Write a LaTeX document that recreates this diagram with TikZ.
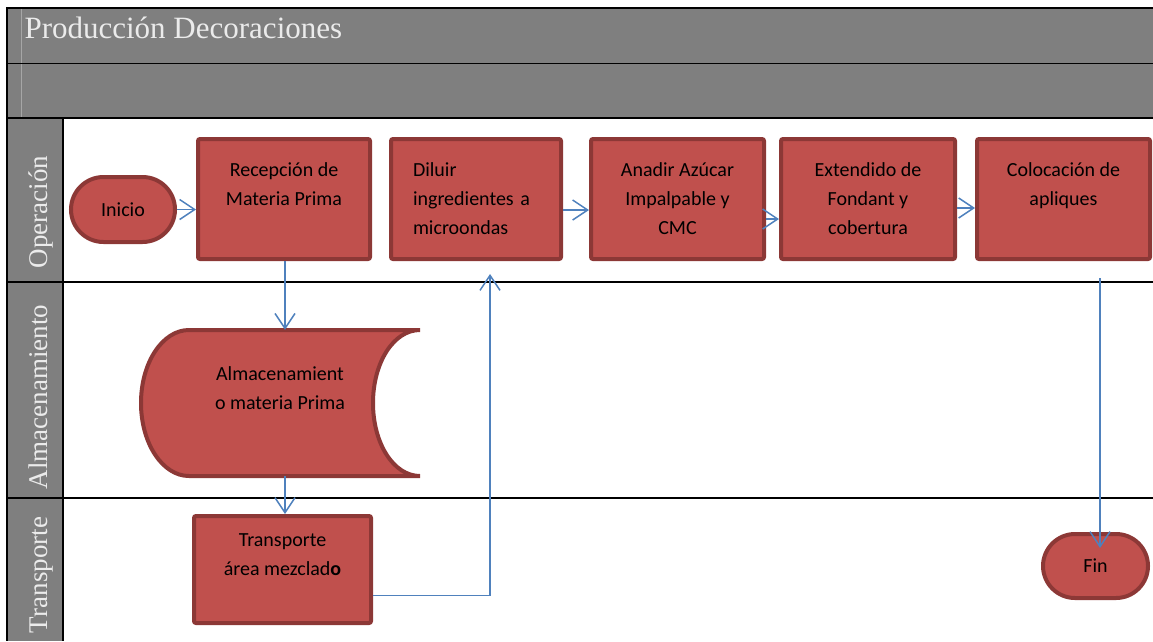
\documentclass[tikz,border=0pt]{standalone}
\usepackage{fontspec}
\setmainfont{Liberation Serif}
\newfontfamily\calibri{Carlito}
\usetikzlibrary{arrows.meta, positioning, shapes.misc}
\definecolor{lanegray}{HTML}{7F7F7F}
\definecolor{boxred}{HTML}{C0504D}
\definecolor{boxborder}{HTML}{8C3836}
\definecolor{flowblue}{HTML}{4F81BD}
\definecolor{labelgray}{HTML}{EBEBEB}
\tikzset{%
	proceso/.style={
		rectangle,
		rounded corners=2pt,
		draw=boxborder,
		fill=boxred,
		line width=4pt,
		inner sep=0pt,
		align=center,
		font=\calibri\fontsize{20}{29}\selectfont
	},
	terminal/.style={
		rounded rectangle,
		draw=boxborder,
		fill=boxred,
		line width=4pt,
		inner sep=0pt,
		font=\calibri\fontsize{20}{29}\selectfont
	},
	flecha/.style={
		draw=flowblue,
		line width=1.5pt,
		-{Straight Barb[length=15pt, width=20pt]}
	},
	carril/.style={
		rotate=90,
		anchor=base,
		text=labelgray,
		font=\fontsize{27}{32}\selectfont
	},
	separador/.style={draw=black, line width=2pt},
}

\begin{document}
\begin{tikzpicture}[x=1pt, y=-1pt]
			\useasboundingbox (0,0) rectangle (1153,641);
			
			% Draw the title bands and lane headers
			\fill[lanegray] (7,8) rectangle (1153,118);
			\fill[lanegray] (7,118) rectangle (63,641);
			\draw[gray!70, line width=0.8pt] (21,8) -- (21,118);
			\draw[separador] (7,8) -- (1153,8);
			\draw[black, line width=1pt] (7,63) -- (1153,63);
			\draw[separador] (7,118) -- (1153,118);
			\draw[separador] (7,282) -- (1153,282);
			\draw[separador] (7,498) -- (1153,498);
			\draw[separador] (7,7) -- (7,641);
			\draw[separador] (63,118) -- (63,641);
			
			\node[anchor=base west, text=labelgray, font=\fontsize{31}{36}\selectfont] (titulo) at (21,38) {Producción Decoraciones};
			\node[carril] (op) at (47,212) {Operación};
			\node[carril] (al) at (47,397) {Almacenamiento};
			\node[carril] (tr) at (47,575) {Transporte};
			
			% Draw the operation steps
			\node[terminal, minimum width=104pt, minimum height=65pt] (ini) at (123,209.5) {Inicio};
			\node[proceso, minimum width=172pt, minimum height=120pt] (rec) at (284,199) {Recepción de\\Materia Prima\\\mbox{}};
			\node[proceso, minimum width=170pt, minimum height=120pt, align=left, text width=126pt] (dil) at (476,199) {Diluir\\ingredientes a\\microondas};
			\node[proceso, minimum width=173pt, minimum height=120pt] (ana) at (677.5,199) {Anadir Azúcar\\Impalpable y\\CMC};
			\node[proceso, minimum width=174pt, minimum height=120pt] (ext) at (868,199) {Extendido de\\Fondant y\\cobertura};
			\node[proceso, minimum width=173pt, minimum height=120pt] (col) at (1063.5,199) {Colocación de\\apliques\\\mbox{}};
			
			% Draw the storage shape
			\draw[draw=boxborder, fill=boxred, line width=4pt]
				(189,330) -- (420,330)
				.. controls (393.5,330) and (373,362.7) .. (373,403)
				.. controls (373,443.3) and (393.5,476) .. (420,476)
				-- (189,476)
				.. controls (162.5,476) and (141,443.3) .. (141,403)
				.. controls (141,362.7) and (162.5,330) .. cycle;
			\node[align=center, inner sep=0pt, minimum width=279pt, minimum height=146pt, font=\calibri\fontsize{20}{29}\selectfont] (alm) at (280,403) {Almacenamient\\o materia Prima\\\mbox{}};
			
			% Draw transport and end
			\node[proceso, minimum width=177pt, minimum height=107pt] (tra) at (282.5,569.5) {Transporte\\área mezclad\textbf{o}\\\mbox{}};
			\node[terminal, minimum width=105pt, minimum height=64pt] (fin) at (1095.5,566) {Fin};
			
			% Draw arrows between the steps
			\coordinate (dilin) at (490,274);
			\coordinate (colout) at (1100,278);
			\coordinate (finin) at ([yshift=-16pt]fin.north);
			\draw[flecha] (ini.east) -- (ini.east -| rec.west);
			\draw[flecha] ([xshift=1pt]rec.south) -- ([xshift=1pt]rec.south |- alm.north);
			\draw[flecha] ([xshift=1pt]rec.south |- alm.south) -- ([xshift=1pt]rec.south |- tra.north);
			\draw[flecha] ([yshift=-26pt]tra.east) -| (dilin);
			\draw[flecha] ([yshift=-11pt]dil.east) -- ([yshift=-11pt]ana.west);
			\draw[flecha] ([yshift=-20pt]ana.east) -- ([yshift=-20pt]ext.west);
			\draw[flecha] ([yshift=-9pt]ext.east) -- ([yshift=-9pt]col.west);
			\draw[flecha] (colout) -- (colout |- finin);
			
		\end{tikzpicture}
\end{document}
